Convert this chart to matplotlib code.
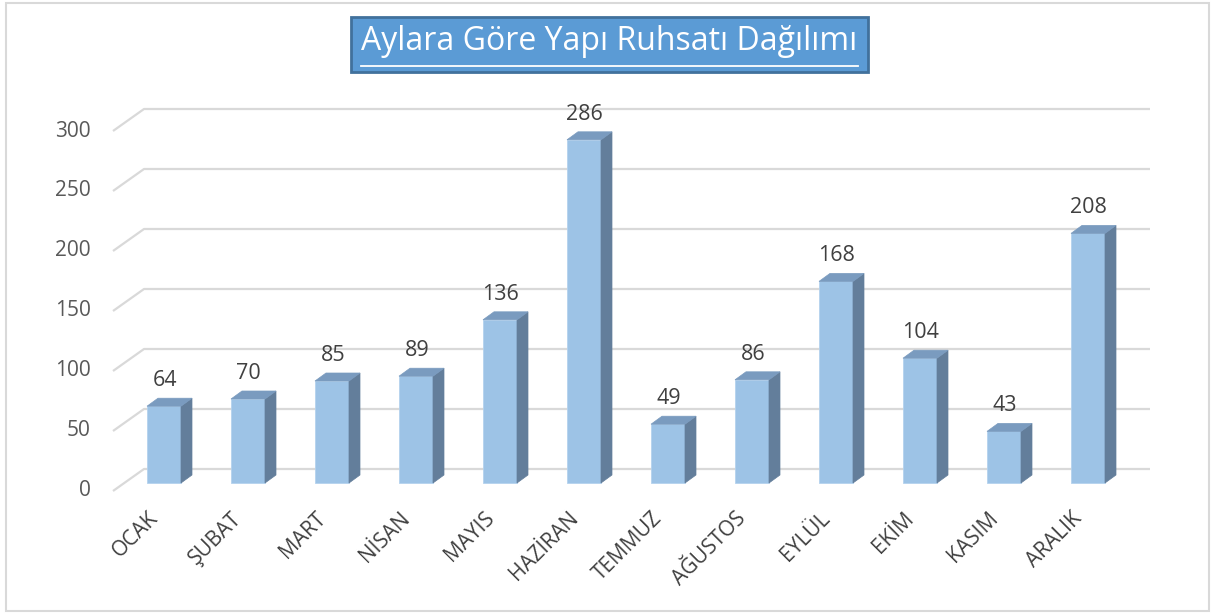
import numpy as np
import matplotlib
matplotlib.use('Agg')
import matplotlib.pyplot as plt
from matplotlib.patches import Polygon, Rectangle
from matplotlib.lines import Line2D

months = ['OCAK', 'ŞUBAT', 'MART', 'NİSAN', 'MAYIS', 'HAZİRAN', 'TEMMUZ',
          'AĞUSTOS', 'EYLÜL', 'EKİM', 'KASIM', 'ARALIK']
permits = [64, 70, 85, 89, 136, 286, 49, 86, 168, 104, 43, 208]
yticks = [0, 50, 100, 150, 200, 250, 300]
title = 'Aylara Göre Yapı Ruhsatı Dağılımı'

plt.rcParams['font.family'] = ['Open Sans', 'DejaVu Sans']

W, H = 1211, 614
fig = plt.figure(figsize=(W / 100, H / 100), dpi=100)

# pixel layout: category i centre at 164 + 84*i, value v at 483 - 1.2*v
PX_X, PX_Y = 84.0, 1.2
x0_px, y0_px = 164, 483
xlim = (-1.0, 12.0)
ylim = (-20, 330)
left = x0_px + xlim[0] * PX_X
bottom = y0_px + (-ylim[0]) * PX_Y
ax = fig.add_axes([left / W, 1 - bottom / H,
                   (xlim[1] - xlim[0]) * PX_X / W,
                   (ylim[1] - ylim[0]) * PX_Y / H])
ax.set_xlim(*xlim)
ax.set_ylim(*ylim)
ax.axis('off')

# back wall gridlines + floor diagonals
gx_front = (113 - x0_px) / PX_X
gx_back = (144 - x0_px) / PX_X
gx_end = (1150 - x0_px) / PX_X
off_front = -8 / PX_Y
off_back = 14 / PX_Y
grid_c = '#d9d9d9'
for t in yticks:
    ax.plot([gx_front, gx_back, gx_end], [t + off_front, t + off_back, t + off_back],
            color=grid_c, lw=1.6, zorder=1, solid_capstyle='butt')
    ax.text((91 - x0_px) / PX_X, t + off_front, str(t), ha='right', va='center',
            fontsize=15, color='#595959')

# 3D-looking bars
bw = 34 / PX_X
dx = 11 / PX_X
dy = 8 / PX_Y
front_c, top_c, side_c = '#9dc3e6', '#7a9bbf', '#637e9b'
x = np.arange(len(months))
ax.bar(x, permits, width=bw, color=front_c, edgecolor='#b4d2ee', lw=0.6, zorder=3)
for xi, v in zip(x, permits):
    l, r = xi - bw / 2, xi + bw / 2
    ax.add_patch(Polygon([(r, 0), (r + dx, dy), (r + dx, v + dy), (r, v)],
                         closed=True, fc=side_c, ec=side_c, lw=0.5, zorder=3))
    ax.add_patch(Polygon([(l, v), (r, v), (r + dx, v + dy), (l + dx, v + dy)],
                         closed=True, fc=top_c, ec=top_c, lw=0.5, zorder=3))
    ax.text(xi + 0.01, v + 20 / PX_Y, str(v), ha='center', va='baseline',
            fontsize=15.5, color='#404040', zorder=4)

for xi, m in zip(x, months):
    ax.text(xi - 0.02, -25 / PX_Y, m, rotation=45, ha='right', va='top',
            fontsize=15, color='#404040', clip_on=False)

# outer chart border
fig.patches.append(Rectangle((6 / W, 3 / H), 1203 / W, 608 / H, transform=fig.transFigure,
                             fill=False, ec='#d9d9d9', lw=1.5))

# title box
bx0, bx1, by0, by1 = 351, 868, 17, 72
fig.patches.append(Rectangle((bx0 / W, 1 - by1 / H), (bx1 - bx0) / W, (by1 - by0) / H,
                             transform=fig.transFigure, fc='#5b9bd5', ec='#41719c', lw=2))
tt = fig.text((bx0 + bx1) / 2 / W, 1 - 42 / H, title, ha='center', va='center',
              fontsize=23, color='white')
fig.canvas.draw()
bb = tt.get_window_extent(fig.canvas.get_renderer())
fig.add_artist(Line2D([bb.x0 / W, bb.x1 / W], [1 - 66 / H, 1 - 66 / H],
                      transform=fig.transFigure, color='white', lw=1.3))

fig.savefig('out.png', dpi=100)
